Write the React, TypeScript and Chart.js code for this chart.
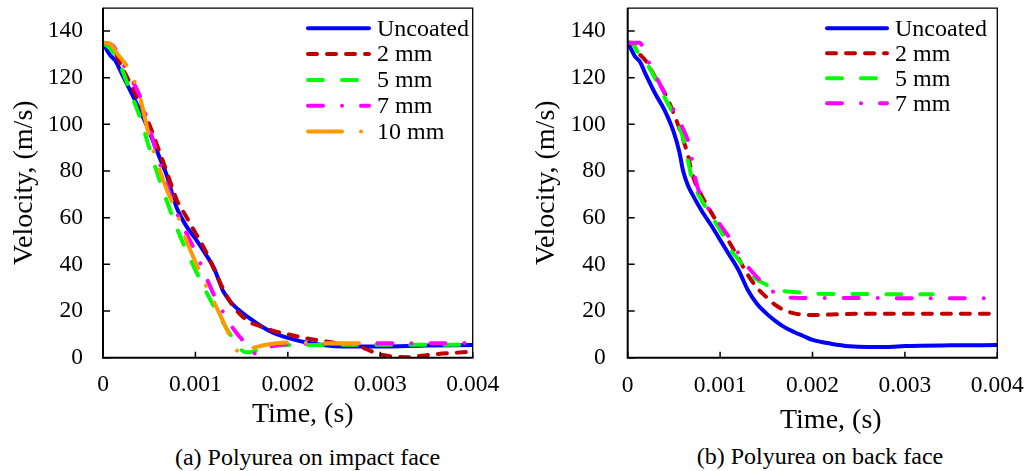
import React, { useEffect, useRef } from "react";
import { Chart, registerables } from "chart.js";

Chart.register(...registerables);

const FONT = "'Liberation Serif', Tinos, 'Times New Roman', 'DejaVu Serif', serif";

// ---- axis ticks ----
const xTickValues = [0, 0.001, 0.002, 0.003, 0.004];
const xTickLabels = ["0", "0.001", "0.002", "0.003", "0.004"];
const yTickValues = [0, 20, 40, 60, 80, 100, 120, 140];
const yTickLabels = ["0", "20", "40", "60", "80", "100", "120", "140"];

// ---- series names ----
const namesImpact = ["Uncoated", "2 mm", "5 mm", "7 mm", "10 mm"];
const namesBack = ["Uncoated", "2 mm", "5 mm", "7 mm"];

// ---- (a) Polyurea on impact face ----
const aUncT = [0, 0.00004, 0.00008, 0.00013, 0.0002, 0.0003, 0.0004, 0.0005, 0.0006, 0.0007, 0.00075, 0.0008, 0.0009, 0.001, 0.0011, 0.0012, 0.00125, 0.0013, 0.0014, 0.0015, 0.0016, 0.0017, 0.0018, 0.0019, 0.002, 0.0022, 0.0024, 0.0026, 0.003, 0.0035, 0.004];
const aUncV = [135, 132, 129.5, 127.5, 122, 114, 106, 97, 87, 77, 70, 64, 56.5, 51, 45, 38.5, 33.5, 28.5, 23, 19.5, 16.5, 13.8, 11.5, 9.8, 8.5, 6.5, 5.3, 4.8, 4.8, 5.2, 5.4];

const a2T = [0, 0.0001, 0.0002, 0.0003, 0.0004, 0.0005, 0.0006, 0.0007, 0.0008, 0.0009, 0.001, 0.0011, 0.0012, 0.0013, 0.0014, 0.0015, 0.0016, 0.0017, 0.0018, 0.002, 0.0022, 0.0024, 0.0026, 0.0028, 0.0029, 0.003, 0.0031, 0.0032, 0.0033, 0.0034, 0.0036, 0.0038, 0.004];
const a2V = [135, 133, 125, 117, 109, 100, 89.5, 78.5, 67.5, 60.5, 53.5, 46.5, 38, 29.5, 22.5, 18, 15, 13.5, 12, 10, 8.3, 7, 5.8, 4.5, 2.8, 1.4, 0.7, 0.3, 0.2, 0.6, 1.5, 2.1, 2.6];

const a5T = [0, 0.0001, 0.0002, 0.0003, 0.0004, 0.0005, 0.0006, 0.0007, 0.0008, 0.0009, 0.001, 0.0011, 0.0012, 0.0013, 0.0014, 0.00145, 0.0015, 0.00155, 0.0016, 0.0017, 0.0018, 0.002, 0.0025, 0.003, 0.0035, 0.004];
const a5V = [135, 131.5, 124, 113.5, 103, 90, 77.5, 66, 55.5, 46, 37.5, 29.5, 22, 15, 8.5, 5.5, 3.2, 2.3, 2.4, 3.8, 4.8, 5.4, 5.5, 5.6, 5.6, 5.6];

const a7T = [0, 0.0001, 0.0002, 0.0003, 0.0004, 0.0005, 0.0006, 0.0007, 0.0008, 0.0009, 0.001, 0.0011, 0.0012, 0.0013, 0.0014, 0.0015, 0.0016, 0.00166, 0.0017, 0.0018, 0.002, 0.0025, 0.003, 0.0035, 0.004];
const a7V = [135, 134, 127, 120, 112, 99, 85, 73, 62, 53.5, 45.5, 36, 27, 19.5, 13, 8, 3.8, 1.5, 2.3, 4.5, 5.8, 6, 6.2, 6.2, 6.3];

const a10T = [0, 0.00008, 0.00015, 0.00025, 0.0003, 0.00035, 0.0004, 0.0005, 0.0006, 0.0007, 0.0008, 0.0009, 0.001, 0.0011, 0.0012, 0.0013, 0.0014, 0.00146, 0.0015, 0.00155, 0.0016, 0.0017, 0.0018, 0.002, 0.0022, 0.0025, 0.0028];
const a10V = [135, 134.5, 130.5, 125.5, 122, 117.5, 111.5, 95, 82, 71, 62, 50.5, 41, 32, 24, 15.5, 7, 2.5, 1.8, 2.6, 3.8, 5, 5.8, 6.5, 6.4, 6.2, 6.2];

// ---- (b) Polyurea on back face ----
const bUncT = [0, 0.00004, 0.00008, 0.00013, 0.0002, 0.0003, 0.0004, 0.0005, 0.00056, 0.0006, 0.00065, 0.0007, 0.0008, 0.0009, 0.001, 0.0011, 0.0012, 0.0013, 0.0014, 0.0015, 0.0016, 0.0017, 0.0018, 0.0019, 0.002, 0.0022, 0.0024, 0.0026, 0.0028, 0.003, 0.0035, 0.004];
const bUncV = [135, 132, 129, 127, 121, 113, 106, 96.5, 88, 80, 74, 70, 63, 57, 50.5, 44, 37.5, 29, 23, 19, 15.7, 13, 11, 9.3, 7.6, 6, 4.9, 4.6, 4.6, 5, 5.3, 5.4];

const b2T = [0, 0.00006, 0.0001, 0.0002, 0.0003, 0.0004, 0.0005, 0.0006, 0.00065, 0.0007, 0.0008, 0.0009, 0.001, 0.0011, 0.0012, 0.0013, 0.0014, 0.0015, 0.0016, 0.0017, 0.0018, 0.0019, 0.002, 0.0022, 0.0025, 0.003, 0.0035, 0.004];
const b2V = [135, 134.5, 131.5, 127, 120, 113.5, 104.5, 93.5, 87, 78.5, 69.5, 62.5, 56, 49.5, 42.5, 35.5, 30, 26, 22.5, 20.3, 19, 18.5, 18.3, 18.5, 18.8, 18.8, 18.8, 18.8];

const b5T = [0, 0.00005, 0.0001, 0.0002, 0.0003, 0.0004, 0.0005, 0.0006, 0.00065, 0.0007, 0.0008, 0.0009, 0.001, 0.0011, 0.0012, 0.0013, 0.0014, 0.0015, 0.0016, 0.0017, 0.0018, 0.002, 0.0025, 0.003, 0.0033];
const b5V = [135, 135, 131.5, 126.5, 119.5, 111.5, 104, 94, 85, 76, 67.5, 61, 54.7, 47, 42, 37, 33.5, 31.3, 29.5, 28.5, 28.2, 27.4, 27.3, 27.2, 27.2];

const b7T = [0, 0.00013, 0.0002, 0.0003, 0.0004, 0.0005, 0.0006, 0.00066, 0.0007, 0.00073, 0.0008, 0.0009, 0.001, 0.0011, 0.0012, 0.0013, 0.0014, 0.0015, 0.0016, 0.0017, 0.0018, 0.002, 0.0025, 0.003, 0.0035, 0.004];
const b7V = [135, 135, 129, 121, 113.3, 106, 98, 92, 84, 77, 68.5, 62.5, 57, 51.5, 44.7, 39, 34.5, 30.5, 27.6, 26, 25.7, 25.6, 25.6, 25.5, 25.5, 25.5];

// ---- styles ----
const seriesColors = ["#0000FF", "#C00000", "#00FF00", "#FF00FF", "#FF9900"];
const seriesDashes = [[], [9, 10], [15, 19], [15, 19, 0.01, 19], [34, 19, 0.01, 19]];

const toPoints = (t: number[], v: number[]) => t.map((x, i) => ({ x, y: v[i] }));

function buildDatasets(names: string[], series: [number[], number[]][]) {
  return names.map((name, i) => ({
    label: name,
    data: toPoints(series[i][0], series[i][1]),
    borderColor: seriesColors[i],
    backgroundColor: seriesColors[i],
    borderWidth: 4,
    borderDash: seriesDashes[i],
    borderCapStyle: "round",
    borderJoinStyle: "round",
    pointRadius: 0,
    cubicInterpolationMode: "monotone",
    fill: false,
    order: names.length - i,
  }));
}

const framePlugin = {
  id: "frame",
  afterDatasetsDraw(chart: any) {
    const { ctx, chartArea } = chart;
    const { left, right, top, bottom } = chartArea;
    const xs = chart.scales.x;
    const ys = chart.scales.y;
    ctx.save();
    ctx.strokeStyle = "#000";
    ctx.setLineDash([]);
    ctx.lineCap = "butt";
    ctx.lineWidth = 1.3;
    ctx.beginPath();
    ctx.moveTo(left, top + 0.5);
    ctx.lineTo(right, top + 0.5);
    ctx.lineTo(right, bottom);
    ctx.stroke();
    ctx.lineWidth = 2;
    ctx.beginPath();
    ctx.moveTo(left, top);
    ctx.lineTo(left, bottom);
    ctx.lineTo(right + 0.7, bottom);
    ctx.stroke();
    ctx.lineWidth = 1.5;
    ctx.beginPath();
    xTickValues.forEach((v) => {
      const px = xs.getPixelForValue(v);
      ctx.moveTo(px, bottom);
      ctx.lineTo(px, bottom - 6);
    });
    yTickValues.forEach((v) => {
      const py = ys.getPixelForValue(v);
      ctx.moveTo(left, py);
      ctx.lineTo(left + 7, py);
    });
    ctx.stroke();
    ctx.restore();
  },
  afterDraw(chart: any, _args: any, opts: any) {
    const { ctx } = chart;
    ctx.save();
    chart.data.datasets.forEach((ds: any, i: number) => {
      const y = opts.legendY + i * opts.legendRow;
      ctx.strokeStyle = ds.borderColor;
      ctx.lineWidth = ds.borderWidth;
      ctx.lineCap = "round";
      ctx.setLineDash(ds.borderDash || []);
      ctx.lineDashOffset = 0;
      ctx.beginPath();
      ctx.moveTo(opts.legendX + 2, y);
      ctx.lineTo(opts.legendX + opts.legendLen - 2, y);
      ctx.stroke();
      ctx.setLineDash([]);
      ctx.fillStyle = "#000";
      ctx.font = `24px ${FONT}`;
      ctx.textAlign = "left";
      ctx.textBaseline = "middle";
      ctx.fillText(ds.label, opts.legendX + opts.legendLen + 6, y + 1);
    });
    ctx.fillStyle = "#000";
    ctx.font = `28px ${FONT}`;
    ctx.textAlign = "center";
    ctx.textBaseline = "middle";
    ctx.fillText(opts.xTitle, opts.xTitleX, opts.xTitleY);
    ctx.restore();
  },
};

function makeConfig(datasets: any[], p: any) {
  return {
    type: "line",
    data: { datasets },
    plugins: [framePlugin],
    options: {
      responsive: false,
      animation: false,
      devicePixelRatio: 1,
      layout: { padding: { left: 0, top: p.top, right: p.right, bottom: 0 } },
      plugins: {
        legend: { display: false },
        tooltip: { enabled: false },
        frame: p.frame,
      },
      scales: {
        x: {
          type: "linear",
          min: 0,
          max: 0.004,
          grid: { display: false, drawTicks: false, tickLength: 0 },
          border: { display: false },
          afterBuildTicks: (s: any) => {
            s.ticks = xTickValues.map((value) => ({ value }));
          },
          afterFit: (s: any) => {
            s.height = p.xHeight;
            s.paddingLeft = 0;
            s.paddingRight = 0;
          },
          ticks: {
            autoSkip: false,
            maxRotation: 0,
            padding: p.xPad,
            color: "#000",
            font: { family: FONT, size: 23.5 },
            callback: (_v: any, i: number) => xTickLabels[i],
          },
        },
        y: {
          type: "linear",
          min: 0,
          max: 150,
          grid: { display: false, drawTicks: false, tickLength: 0 },
          border: { display: false },
          afterBuildTicks: (s: any) => {
            s.ticks = yTickValues.map((value) => ({ value }));
          },
          afterFit: (s: any) => {
            s.width = p.yWidth;
            s.paddingTop = 0;
            s.paddingBottom = 0;
          },
          ticks: {
            autoSkip: false,
            padding: p.yPad,
            color: "#000",
            font: { family: FONT, size: 23.5 },
            callback: (_v: any, i: number) => yTickLabels[i],
          },
          title: {
            display: true,
            text: "Velocity, (m/s)",
            color: "#000",
            font: { family: FONT, size: 28 },
            padding: { top: p.yTitlePad, bottom: 0 },
          },
        },
      },
    },
  };
}

function Panel({ config, left, width, height }: any) {
  const ref = useRef<HTMLCanvasElement | null>(null);
  useEffect(() => {
    if (!ref.current) return;
    const chart = new Chart(ref.current, config);
    return () => chart.destroy();
  }, [config]);
  return (
    <canvas
      ref={ref}
      width={width}
      height={height}
      style={{ position: "absolute", left, top: 0, width, height }}
    />
  );
}

const impactDatasets = buildDatasets(namesImpact, [
  [aUncT, aUncV],
  [a2T, a2V],
  [a5T, a5V],
  [a7T, a7V],
  [a10T, a10V],
]);
const backDatasets = buildDatasets(namesBack, [
  [bUncT, bUncV],
  [b2T, b2V],
  [b5T, b5V],
  [b7T, b7V],
]);

const CANVAS_H = 440;

const impactConfig = makeConfig(impactDatasets, {
  top: 7.7,
  right: 42.3,
  xHeight: CANVAS_H - 357.7,
  yWidth: 103,
  xPad: 13,
  yPad: 20,
  yTitlePad: 8,
  frame: { legendX: 306, legendY: 28.3, legendRow: 25.8, legendLen: 65, xTitle: "Time, (s)", xTitleX: 302.8, xTitleY: 415 },
});
const backConfig = makeConfig(backDatasets, {
  top: 7.7,
  right: 33.7,
  xHeight: CANVAS_H - 357.7,
  yWidth: 112.7,
  xPad: 14,
  yPad: 22,
  yTitlePad: 15,
  frame: { legendX: 310, legendY: 28.3, legendRow: 25, legendLen: 64, xTitle: "Time, (s)", xTitleX: 315.8, xTitleY: 421 },
});

const captionStyle: React.CSSProperties = {
  position: "absolute",
  width: 400,
  textAlign: "center",
  fontFamily: FONT,
  fontSize: 24,
  lineHeight: "28px",
  color: "#000",
  whiteSpace: "nowrap",
};

export default function App() {
  return (
    <div style={{ position: "fixed", left: 0, top: 0, width: 1031, height: 471, background: "#fff", overflow: "hidden" }}>
      <Panel config={impactConfig} left={0} width={515} height={CANVAS_H} />
      <Panel config={backConfig} left={515} width={516} height={CANVAS_H} />
      <div style={{ ...captionStyle, left: 307.5 - 200, top: 443 }}>(a) Polyurea on impact face</div>
      <div style={{ ...captionStyle, left: 820 - 200, top: 442 }}>(b) Polyurea on back face</div>
    </div>
  );
}
